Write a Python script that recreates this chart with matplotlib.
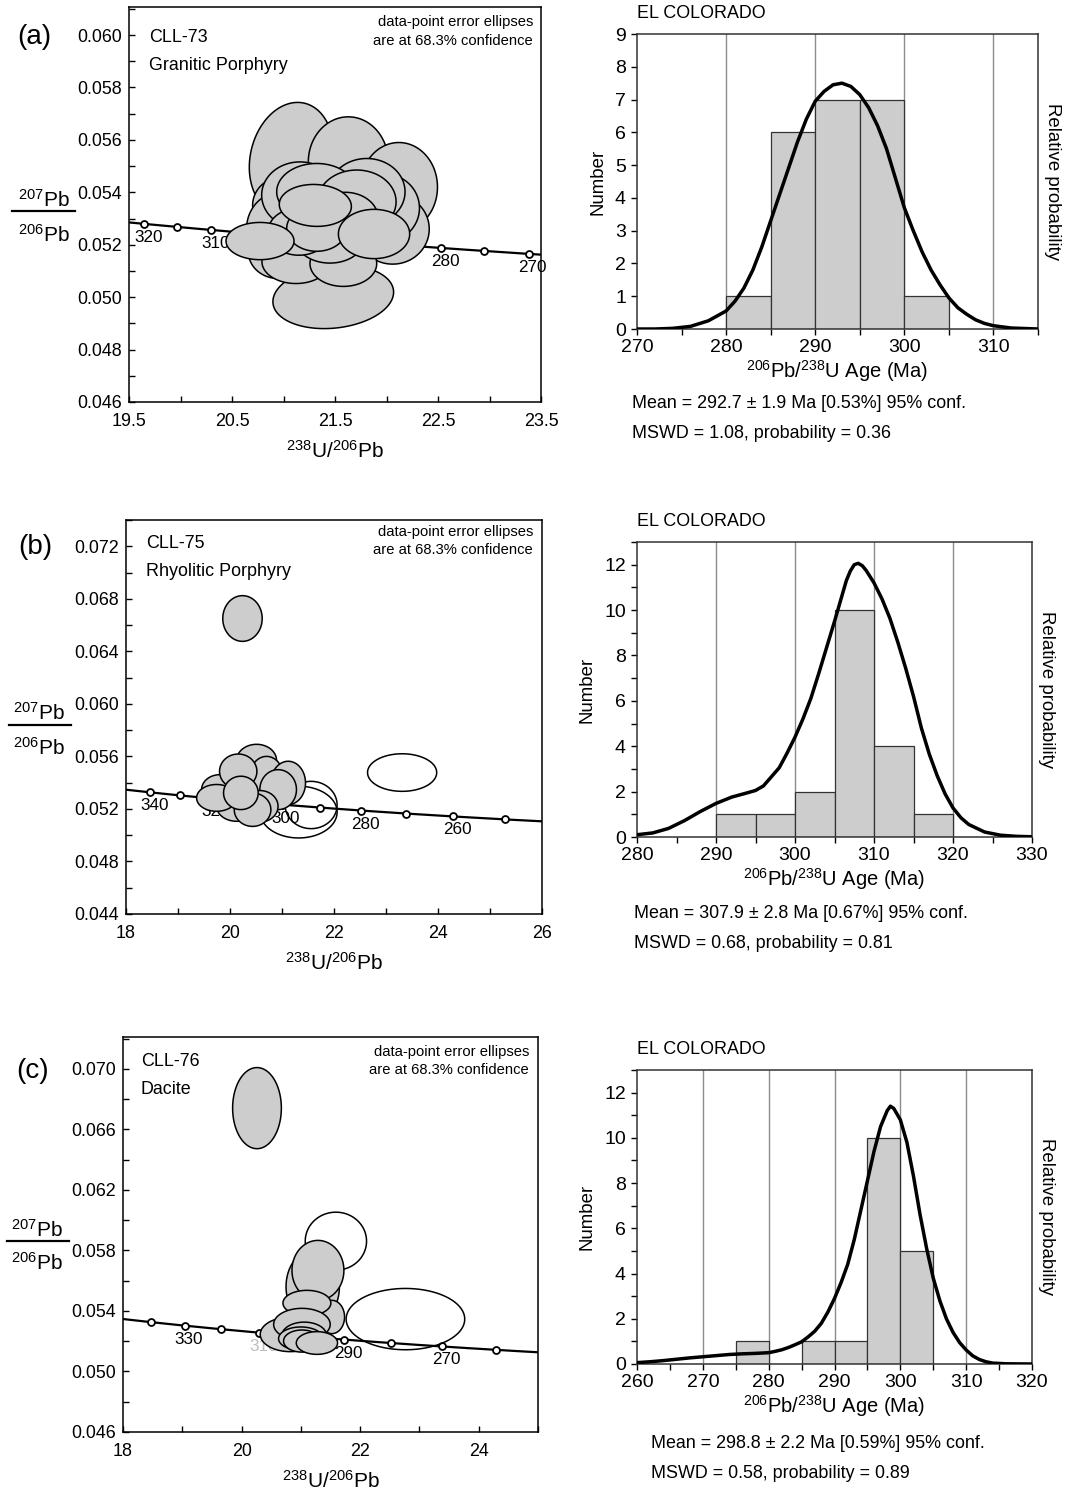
import numpy as np
import matplotlib
matplotlib.use("Agg")
import matplotlib.pyplot as plt
from matplotlib.patches import Polygon
from matplotlib.lines import Line2D
from matplotlib.ticker import MultipleLocator, FixedLocator, FormatStrFormatter
from matplotlib.transforms import offset_copy

plt.rcParams["font.family"] = ["Liberation Sans", "DejaVu Sans"]
plt.rcParams["mathtext.fontset"] = "custom"
plt.rcParams["mathtext.rm"] = "Liberation Sans"
plt.rcParams["mathtext.it"] = "Liberation Sans:italic"
plt.rcParams["mathtext.bf"] = "Liberation Sans:bold"

W, H = 1065, 1493
GREY = "#cdcdcd"

# decay constants for the concordia reference curve
L238 = 1.55125e-10
L235 = 9.8485e-10
U85 = 137.88

# ---------------- (a) CLL-73 ----------------
a_cx = [21.076, 21.629, 22.12, 21.483, 22.06, 21.98, 21.00, 20.982, 21.160, 21.808, 21.322,
        21.711, 21.60, 20.95, 21.121, 21.581, 21.45, 21.15, 21.322, 21.879, 21.309, 20.772]
a_cy = [0.05528, 0.05516, 0.0542, 0.05001, 0.0526, 0.0534, 0.0535, 0.05262, 0.05389, 0.05402, 0.05402,
        0.05364, 0.0530, 0.05173, 0.05135, 0.05128, 0.0522, 0.0525, 0.05262, 0.05241, 0.05350, 0.05214]
a_sx = [0.408, 0.388, 0.375, 0.586, 0.355, 0.34, 0.30, 0.340, 0.372, 0.372, 0.388,
        0.382, 0.32, 0.291, 0.330, 0.324, 0.33, 0.30, 0.291, 0.346, 0.350, 0.330]
a_sy = [0.00215, 0.00172, 0.0017, 0.00121, 0.00134, 0.0013, 0.0011, 0.0014, 0.00127, 0.00127, 0.00108,
        0.00121, 0.0010, 0.00102, 0.00083, 0.00087, 0.0009, 0.0009, 0.00087, 0.00094, 0.0008, 0.00071]
a_rho = [0.15, 0.0, 0.0, 0.15, 0.0, 0.0, 0.0, 0.0, 0.0, 0.0, 0.0,
         0.0, 0.0, 0.0, 0.0, 0.0, 0.0, 0.0, 0.0, 0.0, -0.05, 0.0]
a_marker_ages = [320, 315, 310, 305, 300, 295, 290, 285, 280, 275, 270]
a_label_ages = [320, 310, 300, 290, 280, 270]

# ---------------- (b) CLL-75 ----------------
b_cx = [20.24, 20.511, 20.703, 21.119, 20.926, 19.806, 20.574, 20.127, 19.742, 20.158, 20.434, 20.209]
b_cy = [0.0665, 0.0557, 0.05448, 0.05398, 0.05347, 0.05347, 0.0522, 0.0522, 0.05284, 0.05486, 0.05194, 0.05322]
b_sx = [0.379, 0.384, 0.32, 0.333, 0.352, 0.352, 0.35, 0.384, 0.384, 0.359, 0.352, 0.333]
b_sy = [0.00174, 0.00122, 0.00152, 0.00165, 0.00152, 0.00114, 0.0012, 0.00114, 0.00102, 0.00132, 0.00127, 0.00127]
b_rho = [0.0] * 12
b_open_cx = [23.31, 21.32, 21.56]
b_open_cy = [0.05477, 0.05176, 0.0523]
b_open_sx = [0.665, 0.74, 0.50]
b_open_sy = [0.00143, 0.00197, 0.0018]
b_marker_ages = [340, 330, 320, 310, 300, 290, 280, 270, 260, 250]
b_label_ages = [340, 320, 300, 280, 260]

# ---------------- (c) CLL-76 ----------------
c_cx = [20.26, 21.20, 21.288, 21.524, 21.102, 20.821, 21.018, 21.057, 21.0, 21.018, 21.271]
c_cy = [0.0674, 0.0556, 0.05668, 0.0536, 0.05452, 0.05245, 0.05311, 0.05238, 0.05217, 0.05201, 0.05188]
c_sx = [0.411, 0.45, 0.438, 0.213, 0.404, 0.506, 0.477, 0.376, 0.376, 0.31, 0.348]
c_sy = [0.00268, 0.0024, 0.00198, 0.0011, 0.00084, 0.00114, 0.00106, 0.00088, 0.00077, 0.00073, 0.00075]
c_rho = [0.0] * 11
c_open_cx = [21.591, 22.764]
c_open_cy = [0.05861, 0.05346]
c_open_sx = [0.517, 1.0]
c_open_sy = [0.001915, 0.002025]
c_marker_ages = [340, 330, 320, 310, 300, 290, 280, 270, 260]
c_label_ages = [330, 310, 290, 270]

# ---------------- histograms ----------------
ha_left = [280, 285, 290, 295, 300]
ha_count = [1, 6, 7, 7, 1]
ha_age = [270, 272, 274, 276, 278, 280, 281, 282, 283, 284, 285, 286, 287, 288, 289, 290, 291, 292,
          293, 294, 295, 296, 297, 298, 299, 300, 301, 302, 303, 304, 305, 306, 307, 308, 309, 310, 312, 315]
ha_prob = [0, 0, 0.02, 0.08, 0.25, 0.55, 0.85, 1.25, 1.8, 2.5, 3.3, 4.1, 4.9, 5.7, 6.4, 6.95, 7.25, 7.45,
           7.5, 7.4, 7.15, 6.75, 6.2, 5.5, 4.6, 3.7, 3.0, 2.35, 1.8, 1.35, 0.95, 0.65, 0.45, 0.28, 0.17, 0.1, 0.03, 0]

hb_left = [290, 295, 300, 305, 310, 315]
hb_count = [1, 1, 2, 10, 4, 1]
hb_age = [280, 282, 284, 286, 288, 290, 292, 294, 295, 296, 297, 298, 299, 300, 301, 302, 303, 304, 305,
          306, 306.5, 307, 307.5, 308, 308.5, 309, 310, 311, 312, 313, 314, 315, 316, 317, 318, 319, 320,
          321, 322, 324, 326, 328, 330]
hb_prob = [0.1, 0.18, 0.38, 0.72, 1.12, 1.48, 1.76, 1.95, 2.05, 2.25, 2.65, 3.05, 3.7, 4.4, 5.2, 6.1, 7.2,
           8.35, 9.5, 10.7, 11.3, 11.72, 12.0, 12.06, 11.96, 11.75, 11.2, 10.5, 9.65, 8.6, 7.45, 6.2, 4.8,
           3.65, 2.7, 1.9, 1.28, 0.85, 0.55, 0.22, 0.08, 0.03, 0.01]

hc_left = [275, 285, 290, 295, 300]
hc_count = [1, 1, 1, 10, 5]
hc_age = [260, 262, 264, 266, 268, 270, 272, 274, 276, 278, 280, 281, 282, 283, 284, 285, 286, 287, 288,
          289, 290, 291, 292, 293, 294, 295, 296, 297, 298, 298.5, 299, 300, 301, 302, 303, 304, 305, 306,
          307, 308, 309, 310, 311, 312, 313, 314, 316, 320]
hc_prob = [0.06, 0.1, 0.15, 0.21, 0.27, 0.32, 0.37, 0.42, 0.45, 0.47, 0.5, 0.56, 0.63, 0.73, 0.85, 0.98,
           1.2, 1.45, 1.8, 2.3, 2.9, 3.6, 4.4, 5.5, 6.8, 8.1, 9.4, 10.5, 11.2, 11.4, 11.3, 10.8, 9.8, 8.3,
           6.6, 5.1, 3.8, 2.8, 2.0, 1.4, 0.95, 0.62, 0.36, 0.2, 0.1, 0.04, 0.01, 0]

a_yticks = [0.046, 0.048, 0.050, 0.052, 0.054, 0.056, 0.058, 0.060]
a_xticks = [19.5, 20.5, 21.5, 22.5, 23.5]
b_yticks = [0.044, 0.048, 0.052, 0.056, 0.060, 0.064, 0.068, 0.072]
b_xticks = [18, 20, 22, 24, 26]
c_yticks = [0.046, 0.050, 0.054, 0.058, 0.062, 0.066, 0.070]
c_xticks = [18, 20, 22, 24]

stats = [("Mean = 292.7 \u00b1 1.9 Ma [0.53%] 95% conf.", "MSWD = 1.08, probability = 0.36"),
         ("Mean = 307.9 \u00b1 2.8 Ma [0.67%] 95% conf.", "MSWD = 0.68, probability = 0.81"),
         ("Mean = 298.8 \u00b1 2.2 Ma [0.59%] 95% conf.", "MSWD = 0.58, probability = 0.89")]


def concordia(t_ma):
    t = np.asarray(t_ma, dtype=float) * 1e6
    e8 = np.exp(L238 * t) - 1
    e5 = np.exp(L235 * t) - 1
    return 1 / e8, e5 / e8 / U85


fig = plt.figure(figsize=(W / 100, H / 100), dpi=100)


def px_axes(l, t, r, b):
    return fig.add_axes([l / W, 1 - b / H, (r - l) / W, (b - t) / H])


def ftext(x, y, s, **kw):
    fig.text(x / W, 1 - y / H, s, **kw)


def ellipse(ax, cx, cy, sx, sy, rho, filled, z):
    t = np.linspace(0, 2 * np.pi, 120)
    x = cx + sx * np.cos(t)
    y = cy + sy * (rho * np.cos(t) + np.sqrt(1 - rho ** 2) * np.sin(t))
    ax.add_patch(Polygon(np.column_stack([x, y]), closed=True,
                         facecolor=GREY if filled else "none",
                         edgecolor="black", lw=1.1, zorder=z))


def concordia_panel(ax, gray, opened, markers, labels, xlim, ylim, xticks, yticks,
                    xminor, yminor, xfmt, sample, rock, note_off, faded=()):
    ax.set_xlim(*xlim)
    ax.set_ylim(*ylim)
    tt = np.linspace(230, 380, 400)
    x, y = concordia(tt)
    ax.plot(x, y, color="black", lw=1.6, zorder=2)
    mx, my = concordia(markers)
    ax.plot(mx, my, "o", ms=5, mfc="white", mec="black", mew=1.3, zorder=2.2)
    for age in labels:
        lx, ly = concordia([age])
        ax.annotate(str(age), (lx[0], ly[0]), xytext=(-10, -6), textcoords="offset pixels",
                    ha="left", va="top", fontsize=12.3,
                    color="#bdbdbd" if age in faded else "black", zorder=2.1)
    for i in range(len(opened[0])):
        ellipse(ax, opened[0][i], opened[1][i], opened[2][i], opened[3][i], 0.0, False, 3)
    for i in range(len(gray[0])):
        ellipse(ax, gray[0][i], gray[1][i], gray[2][i], gray[3][i], gray[4][i], True, 4 + i * 0.01)
    ax.xaxis.set_major_locator(FixedLocator(xticks))
    ax.yaxis.set_major_locator(FixedLocator(yticks))
    ax.xaxis.set_minor_locator(MultipleLocator(xminor))
    ax.yaxis.set_minor_locator(MultipleLocator(yminor))
    ax.xaxis.set_major_formatter(FormatStrFormatter(xfmt))
    ax.yaxis.set_major_formatter(FormatStrFormatter("%.3f"))
    ax.tick_params(which="both", direction="in", length=4, width=1.0, labelsize=12.9,
                   top=False, right=False)
    ax.tick_params(axis="x", pad=8)
    ax.tick_params(axis="y", pad=5)
    for s in ax.spines.values():
        s.set_linewidth(1.1)
    ax.set_xlabel("$^{238}$U/$^{206}$Pb", fontsize=15, labelpad=7)
    tl = offset_copy(ax.transAxes, fig=fig, x=note_off[0], y=-note_off[1], units="dots")
    ax.text(0, 1, sample, transform=tl, fontsize=12.9, va="center", ha="left")
    tl2 = offset_copy(ax.transAxes, fig=fig, x=note_off[0], y=-note_off[2], units="dots")
    ax.text(0, 1, rock, transform=tl2, fontsize=12.9, va="center", ha="left")
    tr = offset_copy(ax.transAxes, fig=fig, x=-note_off[3], y=-note_off[4], units="dots")
    ax.text(1, 1, "data-point error ellipses", transform=tr, fontsize=10.6, va="center", ha="right")
    tr2 = offset_copy(ax.transAxes, fig=fig, x=-note_off[3], y=-note_off[5], units="dots")
    ax.text(1, 1, "are at 68.3% confidence", transform=tr2, fontsize=10.6, va="center", ha="right")


def frac_label(cx, yn, yl, yd, x0, x1):
    ftext(cx, yn, "$^{207}$Pb", fontsize=15, ha="center", va="center")
    ftext(cx, yd, "$^{206}$Pb", fontsize=15, ha="center", va="center")
    fig.add_artist(Line2D([x0 / W, x1 / W], [1 - yl / H, 1 - yl / H], color="black",
                          lw=1.6, transform=fig.transFigure))


def hist_panel(ax, left, count, age, prob, xlim, ylim, ymaj, ymin, grid):
    ax.set_xlim(*xlim)
    ax.set_ylim(*ylim)
    for g in grid:
        ax.axvline(g, color="#8c8c8c", lw=1.0, zorder=0)
    ax.bar(left, count, width=5, align="edge", color=GREY, edgecolor="#333333", lw=0.9, zorder=1)
    ax.plot(age, prob, color="black", lw=2.5, zorder=3)
    ax.xaxis.set_major_locator(MultipleLocator(10))
    ax.xaxis.set_minor_locator(MultipleLocator(5))
    ax.yaxis.set_major_locator(MultipleLocator(ymaj))
    if ymin:
        ax.yaxis.set_minor_locator(MultipleLocator(ymin))
    ax.tick_params(which="both", direction="out", length=4, width=1.0, labelsize=14,
                   top=False, right=False)
    ax.tick_params(axis="x", pad=3)
    ax.tick_params(axis="y", pad=4)
    for s in ax.spines.values():
        s.set_linewidth(1.1)
        s.set_color("#333333")
    ax.set_xlabel("$^{206}$Pb/$^{238}$U Age (Ma)", fontsize=14.5, labelpad=2)
    ax.set_ylabel("Number", fontsize=13.4, labelpad=6)
    ax.text(0, 1.04, "EL COLORADO", transform=ax.transAxes, fontsize=12.9, ha="left", va="bottom")
    ax.text(1.015, 0.5, "Relative probability", transform=ax.transAxes, fontsize=13.4,
            rotation=-90, ha="left", va="center")


# ---- concordia panels ----
axA = px_axes(129, 7, 541, 402)
concordia_panel(axA, (a_cx, a_cy, a_sx, a_sy, a_rho), ([], [], [], []), a_marker_ages, a_label_ages,
                (19.5, 23.5), (0.046, 0.06107), a_xticks, a_yticks, 0.5, 0.001, "%.1f",
                "CLL-73", "Granitic Porphyry", (20, 31, 58, 8, 15, 34))
axB = px_axes(126, 520, 542, 914)
concordia_panel(axB, (b_cx, b_cy, b_sx, b_sy, b_rho), (b_open_cx, b_open_cy, b_open_sx, b_open_sy),
                b_marker_ages, b_label_ages, (18, 26), (0.044, 0.0740), b_xticks, b_yticks, 1, 0.002,
                "%d", "CLL-75", "Rhyolitic Porphyry", (20, 23, 51, 9, 12, 30))
axC = px_axes(123, 1037, 538, 1432)
concordia_panel(axC, (c_cx, c_cy, c_sx, c_sy, c_rho), (c_open_cx, c_open_cy, c_open_sx, c_open_sy),
                c_marker_ages, c_label_ages, (18, 25), (0.046, 0.0721), c_xticks, c_yticks, 1, 0.002,
                "%d", "CLL-76", "Dacite", (18, 25, 52, 9, 15, 33), faded=(310,))

frac_label(44, 200, 211, 235, 12, 75)
frac_label(39, 713, 725, 748, 9, 71)
frac_label(37, 1230, 1241, 1263, 7, 69)

ftext(34, 37, "(a)", fontsize=20, ha="center", va="center")
ftext(35, 547, "(b)", fontsize=20, ha="center", va="center")
ftext(33, 1071, "(c)", fontsize=20, ha="center", va="center")

# ---- histograms ----
hA = px_axes(637, 34, 1038, 329)
hist_panel(hA, ha_left, ha_count, ha_age, ha_prob, (270, 315), (0, 9), 1, None, [280, 290, 300, 310])
hB = px_axes(637, 542, 1032, 837)
hist_panel(hB, hb_left, hb_count, hb_age, hb_prob, (280, 330), (0, 13), 2, 1, [290, 300, 310, 320])
hC = px_axes(637, 1070, 1032, 1364)
hist_panel(hC, hc_left, hc_count, hc_age, hc_prob, (260, 320), (0, 13), 2, 1, [270, 280, 290, 300, 310])

for (m, s), (x, y1, y2) in zip(stats, [(632, 404, 433), (634, 913, 943), (651, 1444, 1473)]):
    ftext(x, y1, m, fontsize=12.9, ha="left", va="center")
    ftext(x, y2, s, fontsize=12.9, ha="left", va="center")

fig.savefig("out.png", dpi=100)
